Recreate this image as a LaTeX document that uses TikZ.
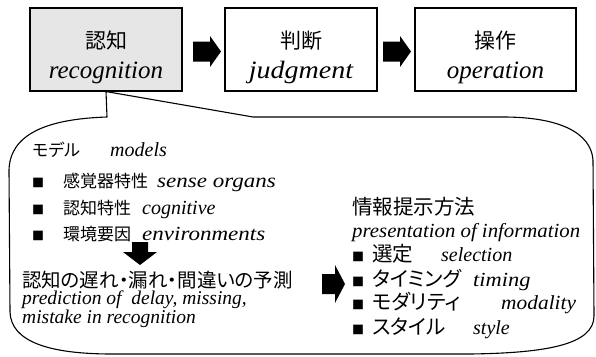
\documentclass[tikz,border=0pt]{standalone}
\usepackage{fontspec}
\usepackage{graphicx}
\setmainfont{Liberation Serif}[ItalicFont={Liberation Serif Italic}]
\newfontfamily\jpfont[RawFeature={+palt}]{Noto Sans CJK JP}
\usetikzlibrary{calc}
\definecolor{boxgray}{HTML}{E6E6E6}
\newcommand\hstr[2]{\scalebox{#1}[1]{#2}}
\tikzset{
  rblk/.pic={\fill (-14,-10) -- (3,-10) -- (3,-15.5) -- (14,0) -- (3,15.5) -- (3,10) -- (-14,10) -- cycle;},
  dblk/.pic={\fill (-8,-11.5) -- (-8,-1.5) -- (-17,-1.5) -- (0,11.5) -- (17,-1.5) -- (8,-1.5) -- (8,-11.5) -- cycle;},
  bigrblk/.pic={\fill (-11.5,-10) -- (1.5,-10) -- (1.5,-19) -- (11.5,0) -- (1.5,19) -- (1.5,10) -- (-11.5,10) -- cycle;}
}
\begin{document}
\begin{tikzpicture}[x=1pt,y=-1pt,
  box/.style={draw, line width=1.1pt, minimum width=152pt, minimum height=83pt, inner sep=0pt},
  topjp/.style={font=\jpfont\fontsize{21}{24}\selectfont, anchor=base, inner sep=0pt},
  topen/.style={font=\itshape\fontsize{25}{30}\selectfont, anchor=base, inner sep=0pt},
  jp/.style={font=\jpfont\fontsize{17}{20}\selectfont, anchor=base west, inner sep=0pt},
  jpl/.style={font=\jpfont\fontsize{19.5}{22}\selectfont, anchor=base west, inner sep=0pt},
  jpr/.style={font=\jpfont\fontsize{20.5}{24}\selectfont, anchor=base west, inner sep=0pt},
  en/.style={font=\itshape\fontsize{20}{24}\selectfont, anchor=base west, inner sep=0pt},
  enl/.style={font=\itshape\fontsize{19.5}{22}\selectfont, anchor=base west, inner sep=0pt},
  bul/.style={font=\jpfont\fontsize{12}{14}\selectfont, anchor=base west, inner sep=0pt},
  callout/.style={draw, line width=1.1pt, line join=round}]
\useasboundingbox (0,0) rectangle (596,356);

% top boxes
\node[box, fill=boxgray] (rec) at (106,49.5) {};
\node[box] (jud) at (301,49.5) {};
\node[box, minimum width=161pt] (op) at (495.5,49.5) {};

\node[topjp] (recj) at ($(rec.north)+(0,41)$) {認知};
\node[topen] (rece) at ($(rec.north)+(0,71)$) {recognition};
\node[topjp] (judj) at ($(jud.north)+(0,41)$) {判断};
\node[topen] (jude) at ($(jud.north)+(0,71)$) {\hstr{1.12}{judgment}};
\node[topjp] (opj) at ($(op.north)+(0,41)$) {操作};
\node[topen] (ope) at ($(op.north)+(0,71)$) {operation};

% block arrows between boxes
\pic at ($(rec.east)!0.5!(jud.west)+(3.5,2)$) {rblk};
\pic at ($(jud.east)!0.5!(op.west)+(1,2)$) {rblk};

% callout
\draw[callout] (rec.south) -- (107,117)
  .. controls (45,119) and (10,135) .. (9,170)
  -- (10,312)
  .. controls (11,342) and (50,354) .. (112,354)
  -- (470,354)
  .. controls (545,353) and (594,345) .. (594,316)
  -- (593,160)
  .. controls (591,133) and (560,117) .. (503,117)
  -- (253,117) -- cycle;

% models
\node[jp] (mdj) at (32,156) {モデル};
\node[en] (mde) at (110,156) {models};
\node[bul] (b1) at (32,187) {■};
\node[jp] (s1j) at (63,187) {感覚器特性};
\node[en] (s1e) at (157,187) {\hstr{1.15}{sense organs}};
\node[bul] (b2) at (32,214) {■};
\node[jp] (s2j) at (63,214) {認知特性};
\node[en] (s2e) at (142,214) {cognitive};
\node[bul] (b3) at (32,240) {■};
\node[jp] (s3j) at (63,240) {環境要因};
\node[en] (s3e) at (142,240) {\hstr{1.15}{environments}};

\pic at (140,253.5) {dblk};

% prediction
\node[jpl] (prj) at (22,287) {認知の遅れ・漏れ・間違いの予測};
\node[enl] (pre1) at (22,304) {prediction of\ \ delay, missing,};
\node[enl] (pre2) at (22,323.5) {mistake in recognition};

\pic at (333.5,284) {bigrblk};

% presentation
\node[jpr] (ipj) at (352,214) {情報提示方法};
\node[en] (ipe) at (352,237) {\hstr{1.04}{presentation of information}};
\node[bul] (c1) at (352,261) {■};
\node[jpr] (t1j) at (372,261) {選定};
\node[en] (t1e) at (441,261) {selection};
\node[bul] (c2) at (352,286) {■};
\node[jpr] (t2j) at (372,286) {タイミング};
\node[en] (t2e) at (473,286) {\hstr{1.12}{timing}};
\node[bul] (c3) at (352,309) {■};
\node[jpr] (t3j) at (372,309) {モダリティ};
\node[en] (t3e) at (501,309) {\hstr{1.07}{modality}};
\node[bul] (c4) at (352,334) {■};
\node[jpr] (t4j) at (372,334) {スタイル};
\node[en] (t4e) at (473,334) {style};
\end{tikzpicture}
\end{document}
